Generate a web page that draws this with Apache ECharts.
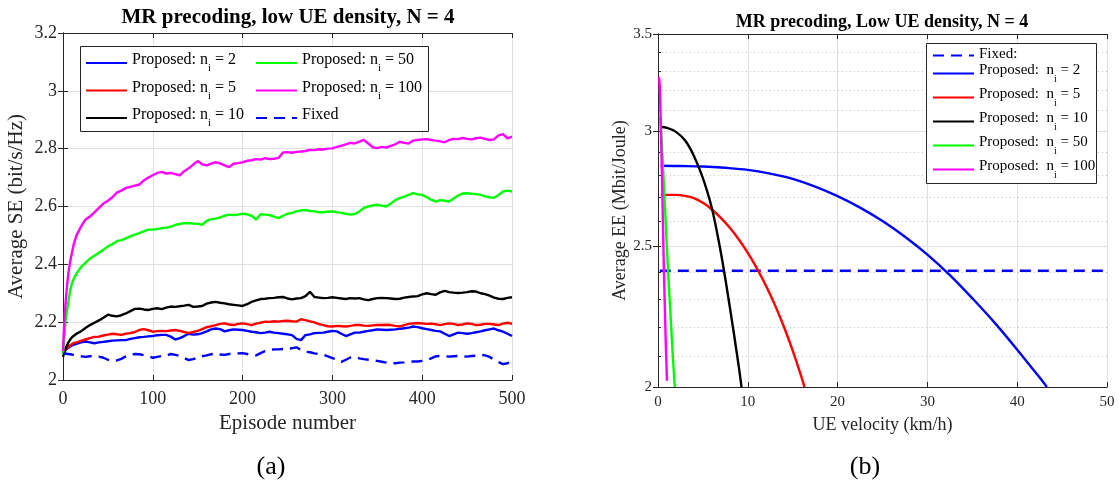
<!DOCTYPE html>
<html><head><meta charset="utf-8">
<script src="https://cdn.jsdelivr.net/npm/echarts@6/dist/echarts.min.js"></script>
<style>html,body{margin:0;padding:0;background:#fff}#c{width:1119px;height:484px}</style>
</head><body><div id="c"></div>
<script>
// ---------------- data: panel (a) Average SE vs episode ----------------
const episodes = [
  0,1,2,3,4,6,8,10,12,15,
  20,25,30,35,40,45,50,55,60,65,
  70,75,80,85,90,95,100,105,110,115,
  120,125,130,135,140,145,150,155,160,165,
  170,175,180,185,190,195,200,205,210,215,
  220,225,230,235,240,245,250,255,260,265,
  270,275,280,285,290,295,300,305,310,315,
  320,325,330,335,340,345,350,355,360,365,
  370,375,380,385,390,395,400,405,410,415,
  420,425,430,435,440,445,450,455,460,465,
  470,475,480,485,490,495,500];
const seN2 = [
  2.09,2.095,2.10,2.103,2.107,2.112,2.116,2.12,2.122,2.125,
  2.13,2.133,2.13,2.127,2.13,2.132,2.134,2.136,2.137,2.138,
  2.138,2.142,2.145,2.148,2.149,2.151,2.152,2.155,2.156,2.156,
  2.15,2.14,2.145,2.152,2.16,2.157,2.158,2.162,2.168,2.175,
  2.178,2.176,2.168,2.172,2.175,2.174,2.173,2.17,2.167,2.165,
  2.162,2.164,2.167,2.164,2.162,2.16,2.158,2.155,2.142,2.138,
  2.155,2.158,2.162,2.163,2.164,2.167,2.17,2.168,2.16,2.152,
  2.158,2.164,2.164,2.167,2.17,2.172,2.175,2.174,2.173,2.174,
  2.175,2.177,2.179,2.181,2.185,2.183,2.179,2.176,2.173,2.17,
  2.168,2.16,2.152,2.158,2.164,2.162,2.16,2.162,2.165,2.168,
  2.172,2.175,2.178,2.172,2.167,2.16,2.152];
const seN5 = [
  2.09,2.095,2.10,2.105,2.11,2.115,2.12,2.125,2.128,2.13,
  2.135,2.14,2.145,2.149,2.15,2.154,2.157,2.16,2.158,2.156,
  2.16,2.162,2.166,2.173,2.176,2.172,2.167,2.169,2.17,2.169,
  2.171,2.173,2.17,2.166,2.162,2.166,2.17,2.176,2.183,2.186,
  2.19,2.194,2.196,2.192,2.19,2.194,2.196,2.193,2.19,2.195,
  2.198,2.202,2.201,2.203,2.202,2.204,2.205,2.203,2.202,2.21,
  2.207,2.203,2.199,2.193,2.19,2.186,2.185,2.187,2.186,2.185,
  2.187,2.19,2.19,2.188,2.187,2.189,2.19,2.19,2.191,2.19,
  2.187,2.185,2.19,2.194,2.196,2.197,2.196,2.194,2.195,2.193,
  2.19,2.193,2.196,2.194,2.19,2.192,2.196,2.194,2.19,2.191,
  2.194,2.194,2.192,2.19,2.195,2.198,2.194];
const seN10 = [
  2.08,2.09,2.10,2.11,2.115,2.13,2.14,2.148,2.152,2.16,
  2.168,2.18,2.19,2.198,2.206,2.215,2.226,2.222,2.22,2.224,
  2.23,2.238,2.246,2.247,2.244,2.242,2.246,2.248,2.245,2.25,
  2.254,2.253,2.255,2.257,2.26,2.253,2.254,2.256,2.264,2.268,
  2.27,2.267,2.265,2.262,2.26,2.258,2.256,2.262,2.27,2.275,
  2.28,2.281,2.283,2.284,2.286,2.287,2.282,2.279,2.282,2.283,
  2.29,2.305,2.287,2.285,2.283,2.284,2.286,2.284,2.282,2.28,
  2.283,2.282,2.283,2.279,2.276,2.28,2.283,2.284,2.283,2.282,
  2.28,2.281,2.285,2.287,2.289,2.29,2.296,2.30,2.297,2.295,
  2.303,2.308,2.304,2.302,2.301,2.302,2.304,2.307,2.306,2.30,
  2.297,2.292,2.285,2.281,2.28,2.284,2.286];
const seN50 = [
  2.09,2.13,2.17,2.21,2.23,2.27,2.31,2.335,2.35,2.368,
  2.39,2.405,2.42,2.43,2.44,2.45,2.462,2.47,2.48,2.484,
  2.49,2.497,2.503,2.508,2.514,2.52,2.52,2.522,2.525,2.527,
  2.53,2.536,2.54,2.542,2.543,2.541,2.54,2.537,2.55,2.556,
  2.558,2.562,2.568,2.572,2.57,2.572,2.575,2.573,2.568,2.555,
  2.573,2.572,2.57,2.565,2.56,2.568,2.575,2.578,2.583,2.586,
  2.588,2.585,2.583,2.58,2.58,2.582,2.583,2.58,2.578,2.575,
  2.572,2.574,2.583,2.595,2.60,2.604,2.606,2.603,2.60,2.61,
  2.622,2.629,2.634,2.64,2.646,2.642,2.64,2.632,2.624,2.617,
  2.622,2.62,2.617,2.628,2.638,2.645,2.646,2.644,2.643,2.64,
  2.635,2.632,2.63,2.64,2.652,2.655,2.652];
const seN100 = [
  2.10,2.17,2.23,2.27,2.31,2.37,2.41,2.44,2.47,2.50,
  2.53,2.555,2.565,2.58,2.595,2.61,2.62,2.632,2.648,2.655,
  2.664,2.668,2.672,2.676,2.69,2.70,2.708,2.716,2.72,2.714,
  2.716,2.712,2.708,2.722,2.732,2.745,2.757,2.746,2.742,2.748,
  2.753,2.749,2.742,2.736,2.748,2.75,2.753,2.758,2.76,2.764,
  2.762,2.767,2.764,2.765,2.768,2.787,2.788,2.786,2.789,2.79,
  2.792,2.796,2.795,2.798,2.797,2.80,2.801,2.806,2.81,2.815,
  2.82,2.818,2.824,2.83,2.818,2.805,2.802,2.806,2.804,2.81,
  2.815,2.824,2.82,2.818,2.828,2.83,2.832,2.833,2.83,2.828,
  2.825,2.822,2.83,2.834,2.833,2.837,2.834,2.832,2.836,2.838,
  2.834,2.83,2.832,2.846,2.85,2.836,2.842];
const seFixed = [
  2.092,2.093,2.092,2.091,2.09,2.09,2.089,2.088,2.087,2.085,
  2.082,2.08,2.082,2.083,2.081,2.077,2.07,2.066,2.068,2.073,
  2.082,2.087,2.09,2.089,2.086,2.082,2.077,2.08,2.083,2.084,
  2.09,2.087,2.083,2.076,2.069,2.072,2.078,2.082,2.085,2.089,
  2.092,2.088,2.087,2.09,2.092,2.092,2.093,2.09,2.086,2.085,
  2.093,2.10,2.103,2.106,2.106,2.107,2.106,2.11,2.113,2.104,
  2.098,2.096,2.092,2.09,2.087,2.082,2.076,2.07,2.063,2.07,
  2.078,2.08,2.075,2.072,2.07,2.068,2.066,2.063,2.06,2.058,
  2.058,2.06,2.061,2.063,2.064,2.064,2.066,2.068,2.075,2.082,
  2.083,2.082,2.081,2.082,2.083,2.082,2.081,2.083,2.084,2.087,
  2.085,2.08,2.07,2.062,2.055,2.058,2.063];

// ---------------- data: panel (b) Average EE vs UE velocity ----------------
const velFixed = [0.2, 50];
const eeFixed  = [2.405, 2.405];
const velN2 = [0.3, 2.5, 5, 7.5, 10, 12.5, 15, 17.5, 20, 22.5, 25, 27.5, 30, 32.5, 35, 37.5, 40, 42.5, 43.3];
const eeN2  = [2.840, 2.839, 2.837, 2.831, 2.822, 2.805, 2.782, 2.748, 2.707, 2.658, 2.602, 2.538, 2.467, 2.388, 2.302, 2.214, 2.122, 2.030, 2.0];
const velN5 = [0.3, 2, 3, 4, 5, 6, 7, 8, 9, 10, 11, 12, 13, 14, 15, 16, 16.3];
const eeN5  = [2.712, 2.712, 2.708, 2.698, 2.678, 2.650, 2.615, 2.574, 2.527, 2.474, 2.415, 2.350, 2.279, 2.202, 2.119, 2.03, 2.0];
const velN10 = [0.3, 1, 2, 3, 4, 5, 6, 7, 8, 9, 9.3];
const eeN10  = [3.02, 3.016, 2.997, 2.957, 2.885, 2.785, 2.655, 2.475, 2.27, 2.065, 2.0];
const velN50 = [0.25, 0.5, 0.8, 1.1, 1.4, 1.65, 1.87];
const eeN50  = [3.07, 2.88, 2.64, 2.42, 2.24, 2.10, 2.0];
const velN100 = [0.1, 0.2, 0.35, 0.5, 0.65, 0.8, 0.9, 1.0];
const eeN100  = [3.27, 3.22, 2.96, 2.68, 2.42, 2.22, 2.11, 2.02];

// tick values / labels
const eeMajorTicks = [2, 2.5, 3, 3.5];
const eeMinorTicks = [2, 2.1, 2.2, 2.3, 2.4, 2.5, 2.6, 2.7, 2.8, 2.9, 3, 3.1, 3.2, 3.3, 3.4, 3.5];
const nValues = ['2', '5', '10', '50', '100'];
const titleA = 'MR precoding, low UE density, N = 4';
const titleB = 'MR precoding, Low UE density, N = 4';

// ---------------- build ----------------
const FONT = 'Liberation Serif';
const pairs = (xs, ys) => xs.map((x, i) => [x, ys[i]]);
const COLORS = ['#0000ff', '#ff0000', '#000000', '#00ff00', '#ff00ff'];
const frame = {color: '#262626', width: 1};
const gridCol = '#dfdfdf';

function line(name, xi, yi, data, color, dashed, smooth) {
  return {
    type: 'line', name, xAxisIndex: xi, yAxisIndex: yi, data,
    symbol: 'none', showSymbol: false,
    smooth: smooth ? 0.35 : false,
    lineStyle: {color, width: 2.4, type: dashed ? [11, 7] : 'solid'},
    itemStyle: {color}, emphasis: {disabled: true}, z: 3
  };
}

const seSets = [seN2, seN5, seN10, seN50, seN100];
const eeSets = [[velN2, eeN2], [velN5, eeN5], [velN10, eeN10], [velN50, eeN50], [velN100, eeN100]];
const series = [];
seSets.forEach((s, i) => series.push(line('a' + nValues[i], 0, 0, pairs(episodes, s), COLORS[i], false, false)));
series.push(line('aF', 0, 0, pairs(episodes, seFixed), '#0000ff', true, false));
series.push(line('bF', 2, 2, pairs(velFixed, eeFixed), '#0000ff', true, false));
eeSets.forEach((s, i) => series.push(line('b' + nValues[i], 2, 2, pairs(s[0], s[1]), COLORS[i], false, true)));

function xAxisBase(grid, min, max, interval, top, fs, name, nameGap, nfs, margin) {
  return {
    gridIndex: grid, type: 'value', min, max, interval, position: top ? 'top' : 'bottom',
    axisLine: {show: true, onZero: false, lineStyle: frame},
    axisTick: {show: true, inside: true, length: 5, lineStyle: frame},
    axisLabel: {show: !top, fontFamily: FONT, fontSize: fs, color: '#262626', margin},
    splitLine: {show: !top, lineStyle: {color: gridCol, width: 1, type: 'solid'}},
    name: top ? '' : name, nameLocation: 'middle', nameGap,
    nameTextStyle: {fontFamily: FONT, fontSize: nfs, color: '#262626'}
  };
}

const legendRichA = {
  t: {fontFamily: FONT, fontSize: 16, color: '#000', lineHeight: 18, verticalAlign: 'top'},
  s: {fontFamily: FONT, fontSize: 11, color: '#000', lineHeight: 22, verticalAlign: 'bottom'}
};
const legendRichB = {
  t: {fontFamily: FONT, fontSize: 15, color: '#000', lineHeight: 17, verticalAlign: 'top'},
  s: {fontFamily: FONT, fontSize: 10, color: '#000', lineHeight: 21, verticalAlign: 'bottom'}
};
function fmtA(name) {
  if (name === 'aF') return '{t|Fixed}{s| }';
  return '{t|Proposed: n}{s|i}{t| = ' + name.slice(1) + '}';
}
function fmtB(name) {
  if (name === 'bF') return '{t|Fixed:}';
  return '{t|Proposed:  n}{s|i}{t| = ' + name.slice(1) + '}';
}
function legend(data, left, top, gap, fmt, rich) {
  return {
    data, left, top, orient: 'vertical', padding: 0, itemGap: gap,
    itemWidth: 41, itemHeight: 10, selectedMode: false, z: 20,
    itemStyle: {opacity: 0, borderWidth: 0},
    formatter: fmt, textStyle: {fontFamily: FONT, color: '#000', rich}
  };
}

const option = {
  animation: false,
  backgroundColor: '#fff',
  title: [
    {text: titleA, left: 288, top: 7, textAlign: 'center', padding: 0,
     textStyle: {fontFamily: FONT, fontWeight: 'bold', fontSize: 21, color: '#000'}},
    {text: titleB, left: 882, top: 13, textAlign: 'center', padding: 0,
     textStyle: {fontFamily: FONT, fontWeight: 'bold', fontSize: 18, color: '#000'}},
    {text: '(a)', left: 271, top: 454, textAlign: 'center', padding: 0,
     textStyle: {fontFamily: FONT, fontWeight: 'normal', fontSize: 26, color: '#000'}},
    {text: '(b)', left: 865, top: 454, textAlign: 'center', padding: 0,
     textStyle: {fontFamily: FONT, fontWeight: 'normal', fontSize: 26, color: '#000'}}
  ],
  grid: [
    {left: 63, top: 33, width: 449, height: 347},
    {left: 658, top: 34, width: 449, height: 353}
  ],
  xAxis: [
    xAxisBase(0, 0, 500, 100, false, 18, 'Episode number', 32, 21, 10),
    xAxisBase(0, 0, 500, 100, true, 18, '', 0, 21, 10),
    xAxisBase(1, 0, 50, 10, false, 15, 'UE velocity (km/h)', 29, 18, 8),
    xAxisBase(1, 0, 50, 10, true, 15, '', 0, 18, 8)
  ],
  yAxis: [
    {gridIndex: 0, type: 'value', min: 2, max: 3.2, interval: 0.2, position: 'left',
     axisLine: {show: true, lineStyle: frame},
     axisTick: {show: true, inside: true, length: 5, lineStyle: frame},
     axisLabel: {fontFamily: FONT, fontSize: 18, color: '#262626', margin: 6},
     splitLine: {show: true, lineStyle: {color: gridCol, width: 1}},
     name: 'Average SE (bit/s/Hz)', nameLocation: 'middle', nameGap: 36,
     nameTextStyle: {fontFamily: FONT, fontSize: 21, color: '#262626'}},
    {gridIndex: 0, type: 'value', min: 2, max: 3.2, interval: 0.2, position: 'right',
     axisLine: {show: true, lineStyle: frame},
     axisTick: {show: true, inside: true, length: 5, lineStyle: frame},
     axisLabel: {show: false}, splitLine: {show: false}},
    {gridIndex: 1, type: 'log', logBase: 10, min: 2, max: 3.5, position: 'left',
     axisLine: {show: true, lineStyle: frame},
     axisTick: {show: true, inside: true, length: 3, lineStyle: frame, customValues: eeMinorTicks},
     axisLabel: {fontFamily: FONT, fontSize: 15, color: '#262626', margin: 6, customValues: eeMajorTicks,
       formatter: v => String(+(+v).toFixed(2))},
     splitLine: {show: true, lineStyle: {color: '#c4c4c4', width: 1, type: [1, 3]}},
     name: 'Average EE (Mbit/Joule)', nameLocation: 'middle', nameGap: 29,
     nameTextStyle: {fontFamily: FONT, fontSize: 18, color: '#262626'}},
    {gridIndex: 1, type: 'log', logBase: 10, min: 2, max: 3.5, position: 'right',
     axisLine: {show: true, lineStyle: frame},
     axisTick: {show: true, inside: true, length: 5, lineStyle: frame, customValues: eeMajorTicks},
     axisLabel: {show: false},
     splitLine: {show: true, lineStyle: {color: gridCol, width: 1}}}
  ],
  legend: [
    legend(['a2', 'a5', 'a10'], 85, 52, 5.5, fmtA, legendRichA),
    legend(['a50', 'a100', 'aF'], 255, 52, 5.5, fmtA, legendRichA),
    legend(['bF'], 932, 47, 0, fmtB, legendRichB),
    legend(['b2', 'b5', 'b10', 'b50', 'b100'], 932, 63, 3, fmtB, legendRichB)
  ],
  graphic: [
    {type: 'rect', z: 10, shape: {x: 80.5, y: 46.5, width: 348, height: 85},
     style: {fill: '#fff', stroke: '#262626', lineWidth: 1}},
    {type: 'rect', z: 10, shape: {x: 926.5, y: 43.5, width: 170, height: 140},
     style: {fill: '#fff', stroke: '#262626', lineWidth: 1}}
  ],
  series
};

const chart = echarts.init(document.getElementById('c'), null, {renderer: 'canvas'});
chart.setOption(option);
</script>
</body></html>
